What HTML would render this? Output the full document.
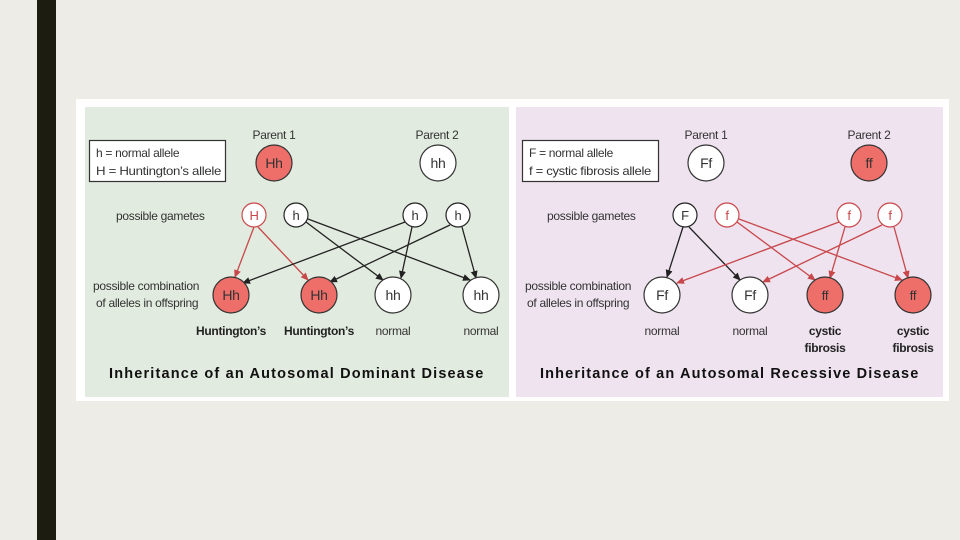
<!DOCTYPE html>
<html><head><style>
body{margin:0;width:960px;height:540px;background:#eeece6;position:relative;overflow:hidden;font-family:"Liberation Sans",sans-serif}
</style></head><body>
<div style="position:absolute;left:37px;top:0;width:19px;height:540px;background:#1c1c10"></div>
<svg width="960" height="540" style="position:absolute;left:0;top:0" font-family="Liberation Sans, sans-serif">
<defs>
<marker id="ak" markerWidth="8" markerHeight="8" refX="7" refY="4" orient="auto" markerUnits="userSpaceOnUse"><path d="M0,0.5 L8,4 L0,7.5z" fill="#222"/></marker>
<marker id="ar" markerWidth="8" markerHeight="8" refX="7" refY="4" orient="auto" markerUnits="userSpaceOnUse"><path d="M0,0.5 L8,4 L0,7.5z" fill="#c8474a"/></marker>
</defs>
<rect x="76" y="99" width="873" height="302" fill="#fff"/>
<rect x="85" y="107" width="424" height="290" fill="#e2ebdf"/>
<rect x="516" y="107" width="427" height="290" fill="#eee3ef"/>
<g font-size="12" fill="#333" letter-spacing="-0.3">
<!-- LEFT -->
<rect x="89.5" y="140.5" width="136" height="41" fill="#fff" stroke="#333" stroke-width="1.2"/>
<text x="96" y="157">h = normal allele</text>
<text x="96" y="175" textLength="125" lengthAdjust="spacingAndGlyphs">H = Huntington’s allele</text>
<text x="274" y="139" text-anchor="middle">Parent 1</text>
<text x="437" y="139" text-anchor="middle">Parent 2</text>
<circle cx="274" cy="163" r="18" fill="#ee6e69" stroke="#333" stroke-width="1.2"/>
<circle cx="438" cy="163" r="18" fill="#fff" stroke="#333" stroke-width="1.2"/>
<text x="274" y="168" text-anchor="middle" font-size="14">Hh</text>
<text x="438" y="168" text-anchor="middle" font-size="14">hh</text>
<text x="116" y="220">possible gametes</text>
<text x="93" y="290">possible combination</text>
<text x="96" y="307">of alleles in offspring</text>
<g stroke-width="1.3" fill="none">
<line x1="254" y1="227" x2="235" y2="277" stroke="#c8474a" marker-end="url(#ar)"/>
<line x1="258" y1="227" x2="308" y2="280" stroke="#c8474a" marker-end="url(#ar)"/>
<line x1="306" y1="222" x2="383" y2="280" stroke="#222" marker-end="url(#ak)"/>
<line x1="308" y1="219" x2="470" y2="280" stroke="#222" marker-end="url(#ak)"/>
<line x1="405" y1="222" x2="243" y2="283" stroke="#222" marker-end="url(#ak)"/>
<line x1="412" y1="227" x2="401" y2="278" stroke="#222" marker-end="url(#ak)"/>
<line x1="450" y1="225" x2="330" y2="282" stroke="#222" marker-end="url(#ak)"/>
<line x1="462" y1="227" x2="476" y2="278" stroke="#222" marker-end="url(#ak)"/>
</g>
<circle cx="254" cy="215" r="12" fill="#fff" stroke="#c8474a" stroke-width="1.2"/>
<circle cx="296" cy="215" r="12" fill="#fff" stroke="#222" stroke-width="1.2"/>
<circle cx="415" cy="215" r="12" fill="#fff" stroke="#222" stroke-width="1.2"/>
<circle cx="458" cy="215" r="12" fill="#fff" stroke="#222" stroke-width="1.2"/>
<text x="254" y="220" text-anchor="middle" font-size="13" fill="#c8474a">H</text>
<text x="296" y="220" text-anchor="middle" font-size="13">h</text>
<text x="415" y="220" text-anchor="middle" font-size="13">h</text>
<text x="458" y="220" text-anchor="middle" font-size="13">h</text>
<circle cx="231" cy="295" r="18" fill="#ee6e69" stroke="#333" stroke-width="1.2"/>
<circle cx="319" cy="295" r="18" fill="#ee6e69" stroke="#333" stroke-width="1.2"/>
<circle cx="393" cy="295" r="18" fill="#fff" stroke="#333" stroke-width="1.2"/>
<circle cx="481" cy="295" r="18" fill="#fff" stroke="#333" stroke-width="1.2"/>
<text x="231" y="300" text-anchor="middle" font-size="14">Hh</text>
<text x="319" y="300" text-anchor="middle" font-size="14">Hh</text>
<text x="393" y="300" text-anchor="middle" font-size="14">hh</text>
<text x="481" y="300" text-anchor="middle" font-size="14">hh</text>
<text x="231" y="335" text-anchor="middle" font-weight="bold" fill="#222">Huntington’s</text>
<text x="319" y="335" text-anchor="middle" font-weight="bold" fill="#222">Huntington’s</text>
<text x="393" y="335" text-anchor="middle">normal</text>
<text x="481" y="335" text-anchor="middle">normal</text>
<text x="109" y="378" font-weight="bold" font-size="14.5" fill="#111" textLength="374" lengthAdjust="spacing">Inheritance of an Autosomal Dominant Disease</text>
<!-- RIGHT -->
<rect x="522.5" y="140.5" width="136" height="41" fill="#fff" stroke="#333" stroke-width="1.2"/>
<text x="529" y="157">F = normal allele</text>
<text x="529" y="175" textLength="122" lengthAdjust="spacingAndGlyphs">f = cystic fibrosis allele</text>
<text x="706" y="139" text-anchor="middle">Parent 1</text>
<text x="869" y="139" text-anchor="middle">Parent 2</text>
<circle cx="706" cy="163" r="18" fill="#fff" stroke="#333" stroke-width="1.2"/>
<circle cx="869" cy="163" r="18" fill="#ee6e69" stroke="#333" stroke-width="1.2"/>
<text x="706" y="168" text-anchor="middle" font-size="14">Ff</text>
<text x="869" y="168" text-anchor="middle" font-size="14">ff</text>
<text x="547" y="220">possible gametes</text>
<text x="525" y="290">possible combination</text>
<text x="527" y="307">of alleles in offspring</text>
<g stroke-width="1.3" fill="none">
<line x1="683" y1="227" x2="667" y2="277" stroke="#222" marker-end="url(#ak)"/>
<line x1="689" y1="227" x2="740" y2="280" stroke="#222" marker-end="url(#ak)"/>
<line x1="737" y1="222" x2="815" y2="280" stroke="#c8474a" marker-end="url(#ar)"/>
<line x1="739" y1="219" x2="902" y2="280" stroke="#c8474a" marker-end="url(#ar)"/>
<line x1="839" y1="222" x2="677" y2="283" stroke="#c8474a" marker-end="url(#ar)"/>
<line x1="845" y1="227" x2="830" y2="278" stroke="#c8474a" marker-end="url(#ar)"/>
<line x1="882" y1="225" x2="763" y2="282" stroke="#c8474a" marker-end="url(#ar)"/>
<line x1="894" y1="227" x2="908" y2="278" stroke="#c8474a" marker-end="url(#ar)"/>
</g>
<circle cx="685" cy="215" r="12" fill="#fff" stroke="#222" stroke-width="1.2"/>
<circle cx="727" cy="215" r="12" fill="#fff" stroke="#c8474a" stroke-width="1.2"/>
<circle cx="849" cy="215" r="12" fill="#fff" stroke="#c8474a" stroke-width="1.2"/>
<circle cx="890" cy="215" r="12" fill="#fff" stroke="#c8474a" stroke-width="1.2"/>
<text x="685" y="220" text-anchor="middle" font-size="13">F</text>
<text x="727" y="220" text-anchor="middle" font-size="13" fill="#c8474a">f</text>
<text x="849" y="220" text-anchor="middle" font-size="13" fill="#c8474a">f</text>
<text x="890" y="220" text-anchor="middle" font-size="13" fill="#c8474a">f</text>
<circle cx="662" cy="295" r="18" fill="#fff" stroke="#333" stroke-width="1.2"/>
<circle cx="750" cy="295" r="18" fill="#fff" stroke="#333" stroke-width="1.2"/>
<circle cx="825" cy="295" r="18" fill="#ee6e69" stroke="#333" stroke-width="1.2"/>
<circle cx="913" cy="295" r="18" fill="#ee6e69" stroke="#333" stroke-width="1.2"/>
<text x="662" y="300" text-anchor="middle" font-size="14">Ff</text>
<text x="750" y="300" text-anchor="middle" font-size="14">Ff</text>
<text x="825" y="300" text-anchor="middle" font-size="13">ff</text>
<text x="913" y="300" text-anchor="middle" font-size="13">ff</text>
<text x="662" y="335" text-anchor="middle">normal</text>
<text x="750" y="335" text-anchor="middle">normal</text>
<text x="825" y="335" text-anchor="middle" font-weight="bold" fill="#222">cystic</text>
<text x="825" y="352" text-anchor="middle" font-weight="bold" fill="#222">fibrosis</text>
<text x="913" y="335" text-anchor="middle" font-weight="bold" fill="#222">cystic</text>
<text x="913" y="352" text-anchor="middle" font-weight="bold" fill="#222">fibrosis</text>
<text x="540" y="378" font-weight="bold" font-size="14.5" fill="#111" textLength="378" lengthAdjust="spacing">Inheritance of an Autosomal Recessive Disease</text>
</g>
</svg>
</body></html>
